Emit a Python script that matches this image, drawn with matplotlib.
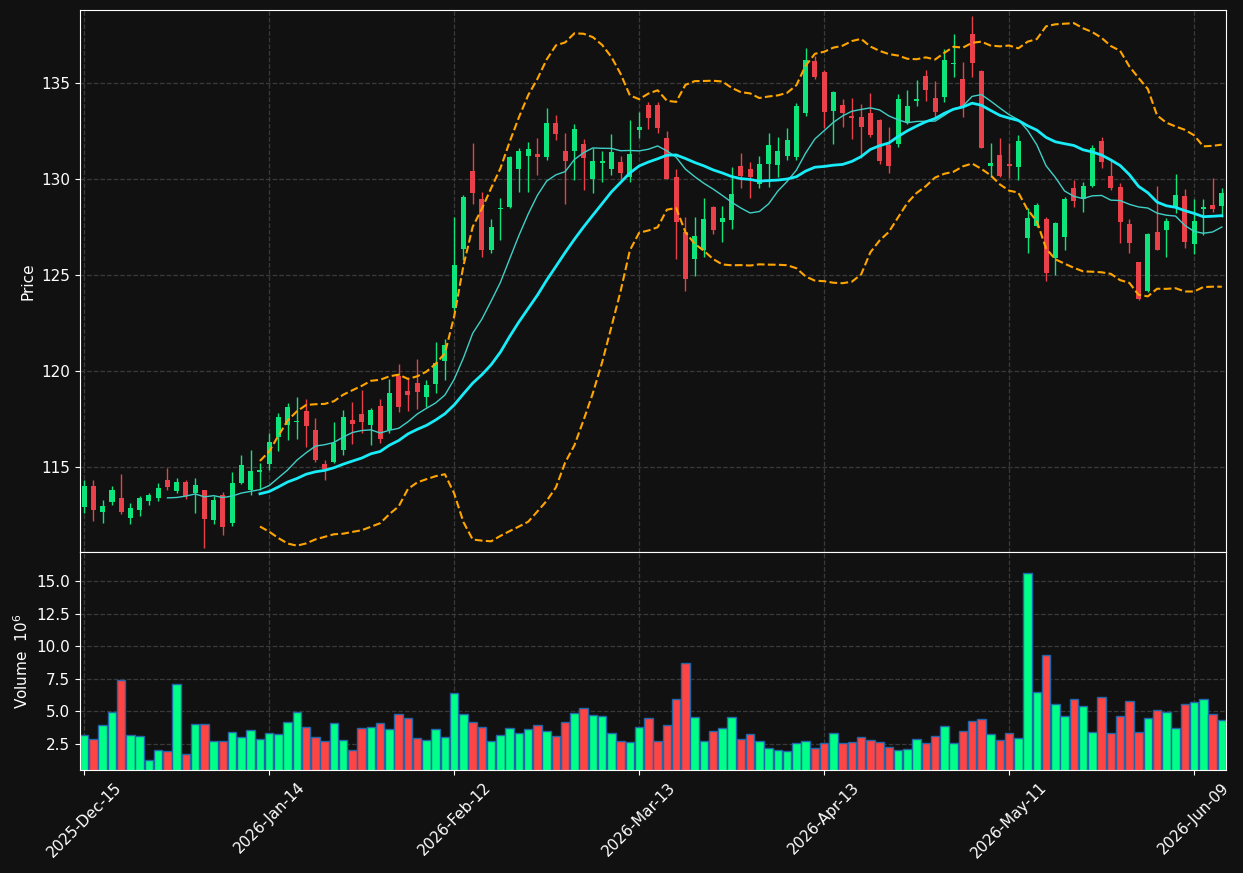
import numpy as np
import pandas as pd
import matplotlib
matplotlib.use('Agg')
import matplotlib.pyplot as plt

# OHLC (one candle per trading day)
opens = [112.93, 114.01, 112.67, 113.19, 113.40, 112.36, 112.78, 113.24, 113.40, 114.32,
         113.75, 114.22, 113.66, 113.80, 112.26, 113.54, 112.10, 114.17, 113.80, 114.76,
         115.16, 116.58, 117.20, 117.35, 117.92, 116.93, 115.16, 115.26, 115.89, 117.45,
         117.76, 117.19, 118.18, 116.91, 119.76, 118.96, 119.38, 118.66, 119.32, 120.54,
         123.30, 126.35, 130.42, 128.96, 126.30, 128.42, 128.54, 130.52, 131.21, 131.29,
         131.14, 132.93, 131.46, 131.47, 131.82, 130.02, 130.85, 130.52, 130.89, 130.12,
         132.57, 133.85, 133.85, 132.12, 130.10, 127.26, 125.85, 126.32, 128.54, 127.76,
         127.86, 130.68, 130.54, 129.76, 130.80, 130.74, 131.21, 131.16, 133.45, 136.12,
         135.56, 133.56, 133.85, 133.30, 133.23, 133.42, 133.07, 131.77, 131.82, 132.90,
         134.08, 135.36, 134.20, 134.29, 135.97, 135.19, 137.55, 135.64, 130.69, 131.25,
         130.77, 130.64, 126.94, 127.57, 127.92, 125.90, 127.00, 129.52, 128.94, 129.65,
         131.98, 130.16, 129.58, 127.66, 125.68, 124.17, 127.24, 127.36, 128.56, 129.11,
         126.61, 128.46, 128.65, 128.61]
highs = [114.32, 114.32, 113.28, 114.01, 114.64, 113.11, 113.49, 113.66, 114.15, 114.95,
         114.43, 114.32, 114.43, 113.80, 113.49, 113.71, 114.72, 115.63, 115.89, 115.19,
         116.79, 117.83, 118.32, 118.65, 118.53, 117.54, 115.36, 117.33, 117.95, 118.37,
         119.01, 118.06, 118.53, 119.58, 120.35, 119.57, 120.63, 119.53, 121.49, 121.68,
         128.00, 129.17, 131.86, 129.34, 127.90, 129.00, 131.20, 131.63, 131.91, 132.12,
         133.68, 133.33, 132.38, 132.86, 132.07, 131.60, 131.46, 132.34, 131.21, 133.07,
         133.50, 134.03, 134.03, 132.50, 130.50, 128.01, 128.00, 129.00, 128.59, 128.59,
         130.61, 131.34, 130.87, 131.21, 132.38, 132.17, 132.64, 133.98, 136.80, 136.40,
         135.68, 134.60, 134.15, 134.20, 133.91, 134.46, 133.10, 132.69, 134.41, 134.64,
         135.16, 135.68, 135.12, 136.75, 137.55, 136.11, 138.49, 135.68, 131.86, 132.15,
         131.86, 132.29, 128.47, 128.73, 128.00, 127.78, 129.08, 129.95, 129.83, 131.77,
         132.17, 131.00, 129.78, 127.90, 125.70, 127.17, 129.64, 127.95, 130.25, 129.48,
         128.94, 128.94, 130.04, 129.52]
lows = [112.62, 112.20, 112.10, 113.02, 112.55, 112.05, 112.46, 113.04, 113.21, 113.80,
        113.66, 113.35, 112.62, 110.77, 112.05, 111.47, 111.94, 114.11, 113.54, 113.80,
        114.84, 115.85, 116.41, 116.46, 116.03, 115.24, 114.32, 115.19, 115.63, 116.20,
        116.76, 116.15, 116.23, 116.76, 117.88, 117.93, 118.02, 118.14, 118.84, 119.53,
        123.10, 125.78, 128.68, 125.92, 126.16, 126.82, 128.47, 129.34, 129.34, 130.21,
        130.99, 132.03, 128.68, 129.95, 129.43, 129.26, 129.86, 130.21, 129.98, 129.86,
        132.15, 132.59, 132.41, 129.98, 125.82, 124.17, 124.95, 125.95, 127.12, 126.73,
        127.38, 129.55, 128.99, 129.55, 129.60, 130.09, 130.99, 130.99, 133.30, 135.20,
        132.64, 131.81, 132.72, 132.07, 131.08, 132.20, 130.80, 130.30, 131.65, 132.85,
        133.82, 134.08, 133.16, 134.03, 135.33, 133.21, 135.33, 131.60, 130.12, 130.12,
        130.03, 129.95, 126.16, 127.51, 124.70, 125.00, 126.30, 128.56, 128.27, 129.60,
        130.56, 129.43, 126.68, 126.13, 123.70, 124.10, 126.30, 125.95, 128.21, 126.39,
        126.08, 127.08, 128.30, 128.04]
closes = [114.01, 112.78, 112.97, 113.80, 112.67, 112.86, 113.39, 113.54, 113.91, 113.96,
          114.22, 113.51, 114.06, 112.31, 113.28, 111.89, 114.17, 115.10, 114.79, 114.86,
          116.32, 117.60, 118.13, 117.40, 117.15, 115.36, 114.88, 116.27, 117.60, 117.24,
          117.34, 117.97, 116.46, 118.85, 118.14, 118.75, 118.92, 119.26, 120.43, 121.35,
          125.52, 129.08, 129.29, 126.30, 127.50, 128.49, 131.15, 131.46, 131.55, 131.16,
          132.93, 132.34, 130.95, 132.59, 131.11, 130.94, 130.95, 131.41, 130.33, 131.30,
          132.72, 133.19, 132.67, 130.02, 127.78, 124.78, 127.03, 127.92, 127.34, 127.95,
          129.22, 130.16, 130.10, 130.78, 131.77, 131.46, 132.03, 133.80, 136.20, 135.33,
          133.51, 134.52, 133.45, 133.20, 132.72, 132.29, 130.95, 130.69, 134.17, 133.80,
          134.17, 134.64, 133.51, 136.20, 136.05, 133.73, 136.06, 131.63, 130.82, 130.17,
          130.69, 132.00, 127.98, 128.65, 125.12, 127.71, 128.96, 128.87, 129.64, 131.60,
          130.90, 129.55, 127.78, 126.68, 123.75, 127.14, 126.30, 127.80, 129.17, 126.73,
          127.81, 128.56, 128.44, 129.27]
# volume in millions
volumes = [3.17, 2.86, 3.94, 4.94, 7.40, 3.17, 3.09, 1.24, 2.01, 1.94,
           7.09, 1.71, 4.01, 4.01, 2.71, 2.71, 3.40, 3.01, 3.55, 2.86,
           3.32, 3.25, 4.17, 4.94, 3.78, 3.01, 2.71, 4.09, 2.78, 2.01,
           3.71, 3.78, 4.09, 3.63, 4.78, 4.48, 2.94, 2.78, 3.63, 3.01,
           6.40, 4.78, 4.17, 3.78, 2.71, 3.17, 3.71, 3.32, 3.63, 3.94,
           3.48, 3.09, 4.17, 4.86, 5.25, 4.71, 4.63, 3.32, 2.71, 2.63,
           3.78, 4.48, 2.71, 3.94, 5.94, 8.71, 4.55, 2.71, 3.48, 3.71,
           4.55, 2.86, 3.25, 2.71, 2.17, 2.01, 1.94, 2.55, 2.71, 2.17,
           2.55, 3.32, 2.55, 2.63, 3.01, 2.78, 2.63, 2.25, 2.01, 2.09,
           2.86, 2.55, 3.09, 3.86, 2.55, 3.48, 4.25, 4.40, 3.25, 2.78,
           3.32, 2.94, 15.63, 6.48, 9.32, 5.55, 4.63, 5.94, 5.40, 3.40,
           6.09, 3.32, 4.63, 5.78, 3.40, 4.48, 5.09, 4.94, 3.71, 5.55,
           5.71, 5.94, 4.78, 4.32]
tick_pos = [0, 20, 40, 60, 80, 100, 120]
tick_labels = ['2025-Dec-15', '2026-Jan-14', '2026-Feb-12', '2026-Mar-13',
               '2026-Apr-13', '2026-May-11', '2026-Jun-09']

BG = '#111111'
UP, DOWN = '#0ee47c', '#ea4049'
VUP, VDOWN = '#00ff88', '#ff4444'

df = pd.DataFrame({'o': opens, 'h': highs, 'l': lows, 'c': closes, 'v': volumes})
x = np.arange(len(df))
up = df.c >= df.o
ma10 = df.c.rolling(10).mean()
ma20 = df.c.rolling(20).mean()
sd20 = df.c.rolling(20).std()

fig = plt.figure(figsize=(12.43, 8.73), dpi=100, facecolor=BG)
ax = fig.add_axes([0.0644, 0.3677, 0.9219, 0.6208])
axv = fig.add_axes([0.0644, 0.1180, 0.9219, 0.2497], sharex=ax)

for a in (ax, axv):
    a.set_facecolor(BG)
    for s in a.spines.values():
        s.set_color('white')
    a.tick_params(colors='white', labelsize=11)
    a.grid(True, ls='--', color='#3a3a3a', lw=0.9)
    a.set_axisbelow(True)

# candles
cols = np.where(up, UP, DOWN)
ax.vlines(x, df.l, df.h, colors=cols, lw=1)
body = (df.c - df.o).abs().clip(lower=0.06)
ax.bar(x, body, bottom=np.minimum(df.o, df.c), width=0.55, color=cols, lw=0)

ax.plot(x, ma10, color='#3fcfc6', lw=1)
ax.plot(x, ma20, color='#18ecf8', lw=2)
ax.plot(x, ma20 + 2 * sd20, color='#ffa500', lw=1.5, ls='--')
ax.plot(x, ma20 - 2 * sd20, color='#ffa500', lw=1.5, ls='--')
ax.set_ylim(110.57, 138.8)
ax.set_ylabel('Price', color='white', fontsize=11)
plt.setp(ax.get_xticklabels(), visible=False)

axv.bar(x, df.v, width=0.92, color=np.where(up, VUP, VDOWN), edgecolor='#2266aa', lw=1)
axv.set_ylim(0.5, 17.25)
axv.set_yticks([2.5, 5.0, 7.5, 10.0, 12.5, 15.0])
axv.set_ylabel('Volume  $10^6$', color='white', fontsize=11)

axv.set_xlim(-0.45, len(df) - 0.55)
axv.set_xticks(tick_pos)
axv.set_xticklabels(tick_labels, rotation=45, ha='center')

fig.savefig('out.png', dpi=100, facecolor=BG)
